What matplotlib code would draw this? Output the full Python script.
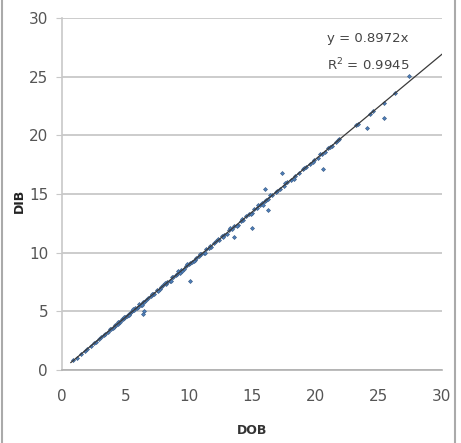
import matplotlib
matplotlib.use("Agg")
import matplotlib.pyplot as plt
from matplotlib.patches import Rectangle

# DOB (diameter outside bark) vs DIB (diameter inside bark)
dob = [0.9, 1.2, 1.5, 1.8, 2.0, 2.3, 2.5, 2.7, 2.9, 3.1, 3.3, 3.4, 3.6, 3.8,
       3.9, 4.0, 4.1, 4.2, 4.3, 4.4, 4.5, 4.6, 4.7, 4.8, 4.9, 5.0, 5.1, 5.2,
       5.3, 5.4, 5.5, 5.6, 5.7, 5.8, 5.9, 6.0, 6.2, 6.4, 6.5, 6.6, 6.8, 7.0,
       7.2, 7.3, 7.5, 7.7, 7.8, 8.0, 8.2, 8.3, 8.5, 8.7, 8.8, 9.0, 9.1, 9.3,
       9.4, 9.6, 9.8, 10.0, 10.1, 10.3, 10.5, 10.6, 10.8, 11.0, 11.2, 11.4,
       11.6, 11.8, 12.0, 12.2, 12.4, 12.6, 12.8, 13.0, 13.2, 13.4, 13.6, 13.9,
       14.1, 14.3, 14.5, 14.8, 15.0, 15.2, 15.4, 15.6, 15.8, 16.0, 16.1, 16.3,
       16.6, 16.9, 17.2, 17.5, 17.8, 18.1, 18.4, 18.7, 19.0, 19.3, 19.6, 19.9,
       20.2, 20.5, 20.8, 21.0, 21.3, 21.6, 21.9, 23.2, 23.4, 24.3, 24.6, 25.4,
       26.3, 27.4,
       # second pass of trees in the dense middle range
       4.4, 4.9, 5.3, 5.6, 6.1, 6.3, 7.1, 7.6, 8.1, 8.6, 9.2, 9.5, 9.9, 10.4,
       10.9, 11.3, 11.7, 12.3, 12.7, 13.3, 13.8, 14.2, 14.9, 15.5, 15.9, 16.4,
       17.0, 17.6, 18.3, 19.1, 19.8, 20.4, 21.2, 21.8,
       # points off the line
       6.5, 6.4, 10.1, 13.6, 15.0, 16.3, 20.6, 24.1, 25.4, 16.0, 17.4]
dib = [0.85, 1.05, 1.35, 1.6, 1.8, 2.05, 2.3, 2.4, 2.6, 2.8, 2.95, 3.1, 3.2, 3.45,
       3.5, 3.6, 3.65, 3.8, 3.85, 3.9, 4.1, 4.1, 4.3, 4.3, 4.45, 4.5, 4.6, 4.7,
       4.8, 4.85, 5.0, 5.1, 5.1, 5.25, 5.3, 5.4, 5.5, 5.8, 5.8, 6.0, 6.1, 6.3,
       6.5, 6.5, 6.8, 6.9, 7.1, 7.2, 7.3, 7.5, 7.6, 7.9, 7.9, 8.1, 8.2, 8.3,
       8.5, 8.6, 8.9, 9.0, 9.1, 9.2, 9.4, 9.55, 9.7, 9.9, 10.0, 10.3, 10.4,
       10.5, 10.8, 11.0, 11.1, 11.4, 11.5, 11.6, 11.9, 12.0, 12.3, 12.4, 12.7,
       12.8, 13.1, 13.3, 13.4, 13.7, 13.8, 14.1, 14.2, 14.4, 14.5, 14.6, 14.9,
       15.2, 15.4, 15.7, 16.0, 16.2, 16.5, 16.8, 17.1, 17.3, 17.6, 17.9, 18.1,
       18.4, 18.6, 18.9, 19.1, 19.4, 19.7, 20.9, 21.0, 21.8, 22.1, 22.8, 23.6,
       25.1,
       4.1, 4.5, 4.65, 5.2, 5.6, 5.5, 6.5, 6.7, 7.4, 7.6, 8.4, 8.4, 9.0, 9.3,
       9.9, 10.0, 10.6, 11.2, 11.3, 12.1, 12.3, 12.9, 13.3, 14.1, 14.1, 14.9,
       15.3, 15.9, 16.3, 17.2, 17.7, 18.4, 19.0, 19.6,
       5.0, 4.8, 7.6, 11.3, 12.1, 13.6, 17.1, 20.6, 21.5, 15.4, 16.8]

slope = 0.8972
r2 = 0.9945
fit_x = [0.7, 30]

plt.rcParams['font.family'] = ['Liberation Sans Narrow', 'DejaVu Sans']

fig = plt.figure(figsize=(4.61, 4.43), dpi=100)
ax = fig.add_axes([0.1345, 0.165, 0.824, 0.794])

ax.scatter(dob, dib, marker='D', s=4, color='#4f81bd', edgecolor='#3d5f8a',
           linewidth=0.5, zorder=3)
ax.plot(fit_x, [slope * v for v in fit_x], color='#3a3a3a', linewidth=0.9, zorder=4)

ax.set_xlim(0, 30)
ax.set_ylim(0, 30)
ax.set_xticks(range(0, 31, 5))
ax.set_yticks(range(0, 31, 5))
ax.yaxis.grid(True, color='#c8c8c8', linewidth=1.3)
ax.set_axisbelow(True)
for side in ['top', 'right']:
    ax.spines[side].set_visible(False)
ax.spines['left'].set_color('#c8c8c8')
ax.spines['bottom'].set_color('#b0b0b0')
ax.spines['left'].set_linewidth(1.2)
ax.spines['bottom'].set_linewidth(1.2)
ax.tick_params(axis='x', length=0, pad=14, labelsize=11, labelcolor='#555555')
ax.tick_params(axis='y', length=4, color='#c8c8c8', pad=6, labelsize=11,
               labelcolor='#555555')

ax.set_xlabel('DOB', fontsize=9, fontweight='bold', color='#333333')
ax.set_ylabel('DIB', fontsize=9, fontweight='bold', color='#222222')
ax.xaxis.set_label_coords(0.5, -0.155)
ax.yaxis.set_label_coords(-0.095, 0.48)

ax.text(20.9, 28.3, 'y = %.4fx' % slope, fontsize=9.5, color='#444444', va='center')
ax.text(20.9, 26.0, 'R$^2$ = %.4f' % r2, fontsize=9.5, color='#444444', va='center')

fig.patches.append(Rectangle((0.005, -0.01), 0.983, 1.02, transform=fig.transFigure,
                             fill=False, edgecolor='#aaaaaa', linewidth=1.5))

fig.savefig('out.png', dpi=100)
